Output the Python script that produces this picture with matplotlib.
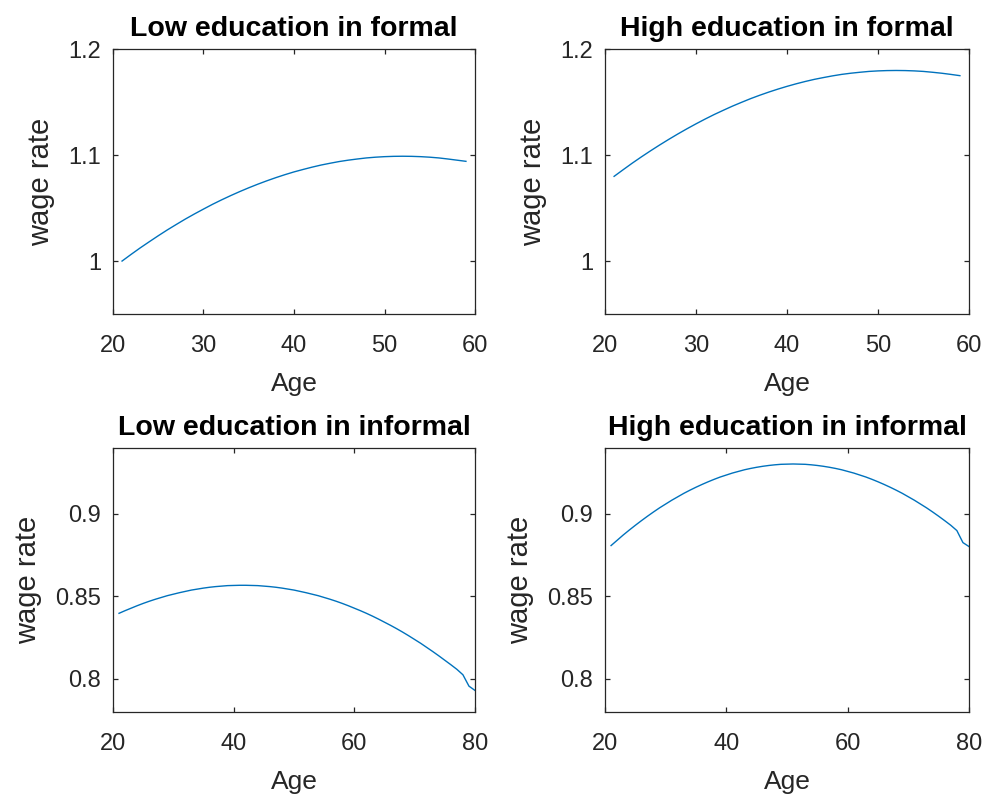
import matplotlib
matplotlib.use("Agg")
import matplotlib.pyplot as plt

plt.rcParams['font.family'] = ['Liberation Sans', 'DejaVu Sans']

# ---------------- data ----------------
ages_formal = list(range(21, 60))
ages_informal = list(range(21, 81))

low_formal = [1.0000, 1.0063, 1.0124, 1.0182, 1.0239, 1.0294, 1.0346, 1.0397, 1.0445, 1.0491,
              1.0536, 1.0578, 1.0618, 1.0656, 1.0692, 1.0726, 1.0758, 1.0788, 1.0816, 1.0842,
              1.0865, 1.0887, 1.0907, 1.0924, 1.0940, 1.0953, 1.0964, 1.0974, 1.0981, 1.0986,
              1.0989, 1.0990, 1.0989, 1.0986, 1.0981, 1.0974, 1.0964, 1.0953, 1.0942]

high_formal = [1.0800, 1.0863, 1.0925, 1.0984, 1.1041, 1.1096, 1.1149, 1.1200, 1.1249, 1.1296,
               1.1341, 1.1384, 1.1424, 1.1463, 1.1499, 1.1534, 1.1566, 1.1596, 1.1624, 1.1650,
               1.1674, 1.1696, 1.1716, 1.1733, 1.1749, 1.1763, 1.1774, 1.1783, 1.1791, 1.1796,
               1.1799, 1.1800, 1.1799, 1.1796, 1.1791, 1.1783, 1.1774, 1.1763, 1.1751]

low_informal = [0.8397, 0.8413, 0.8428, 0.8443, 0.8457, 0.8470, 0.8482, 0.8493, 0.8504, 0.8513,
                0.8522, 0.8530, 0.8538, 0.8544, 0.8550, 0.8555, 0.8559, 0.8562, 0.8565, 0.8566,
                0.8567, 0.8567, 0.8566, 0.8565, 0.8562, 0.8559, 0.8555, 0.8550, 0.8544, 0.8538,
                0.8530, 0.8522, 0.8513, 0.8504, 0.8493, 0.8482, 0.8470, 0.8457, 0.8443, 0.8428,
                0.8413, 0.8397, 0.8380, 0.8362, 0.8343, 0.8324, 0.8304, 0.8283, 0.8261, 0.8238,
                0.8215, 0.8190, 0.8165, 0.8139, 0.8112, 0.8085, 0.8057, 0.8024, 0.7955, 0.7929]

high_informal = [0.8808, 0.8840, 0.8872, 0.8902, 0.8931, 0.8959, 0.8986, 0.9012, 0.9037, 0.9060,
                 0.9083, 0.9104, 0.9125, 0.9144, 0.9162, 0.9179, 0.9195, 0.9210, 0.9224, 0.9236,
                 0.9248, 0.9258, 0.9268, 0.9276, 0.9283, 0.9289, 0.9294, 0.9298, 0.9301, 0.9302,
                 0.9303, 0.9302, 0.9301, 0.9298, 0.9294, 0.9289, 0.9283, 0.9276, 0.9268, 0.9258,
                 0.9248, 0.9236, 0.9224, 0.9210, 0.9195, 0.9179, 0.9162, 0.9144, 0.9125, 0.9104,
                 0.9083, 0.9060, 0.9037, 0.9012, 0.8986, 0.8959, 0.8931, 0.8899, 0.8826, 0.8802]

titles = ["Low education in formal", "High education in formal",
          "Low education in informal", "High education in informal"]

formal_xticks = [20, 30, 40, 50, 60]
informal_xticks = [20, 40, 60, 80]
formal_yticks = [1.0, 1.1, 1.2]
formal_yticklabels = ["1", "1.1", "1.2"]
informal_yticks = [0.8, 0.85, 0.9]
informal_yticklabels = ["0.8", "0.85", "0.9"]

# ---------------- style ----------------
LINE = '#0072BD'
DARK = '#262626'
W, H = 984, 795

fig = plt.figure(figsize=(W / 100, H / 100), dpi=100)

def px_axes(left, right, top, bottom):
    return fig.add_axes([left / W, 1 - bottom / H, (right - left) / W, (bottom - top) / H])

panels = [
    (px_axes(113, 475, 49.3, 314), ages_formal, low_formal, (20, 60), (0.95, 1.2),
     formal_xticks, formal_yticks, formal_yticklabels),
    (px_axes(605, 969, 49.3, 314), ages_formal, high_formal, (20, 60), (0.95, 1.2),
     formal_xticks, formal_yticks, formal_yticklabels),
    (px_axes(113, 475, 448, 711.7), ages_informal, low_informal, (20, 80), (0.78, 0.94),
     informal_xticks, informal_yticks, informal_yticklabels),
    (px_axes(605, 969, 448, 711.7), ages_informal, high_informal, (20, 80), (0.78, 0.94),
     informal_xticks, informal_yticks, informal_yticklabels),
]

for (ax, x, y, xl, yl, xt, yt, ytl), title in zip(panels, titles):
    ax.plot(x, y, color=LINE, linewidth=1.0)
    ax.set_xlim(*xl)
    ax.set_ylim(*yl)
    ax.set_xticks(xt)
    ax.set_xticklabels([str(v) for v in xt])
    ax.set_yticks(yt)
    ax.set_yticklabels(ytl)
    ax.tick_params(direction='in', top=True, right=True, length=3.8, width=0.9,
                   colors=DARK, labelsize=17, labelcolor=DARK)
    ax.tick_params(axis='x', pad=15)
    ax.tick_params(axis='y', pad=8.5)
    for s in ax.spines.values():
        s.set_color(DARK)
        s.set_linewidth(0.9)
    ax.set_title(title, fontsize=20.5, fontweight='bold', color='black', pad=9.5)
    ax.set_xlabel('Age', fontsize=19, color=DARK, labelpad=11)
    ax.set_ylabel('wage rate', fontsize=21, color=DARK, labelpad=9.5)

fig.savefig('out.png', dpi=100)
